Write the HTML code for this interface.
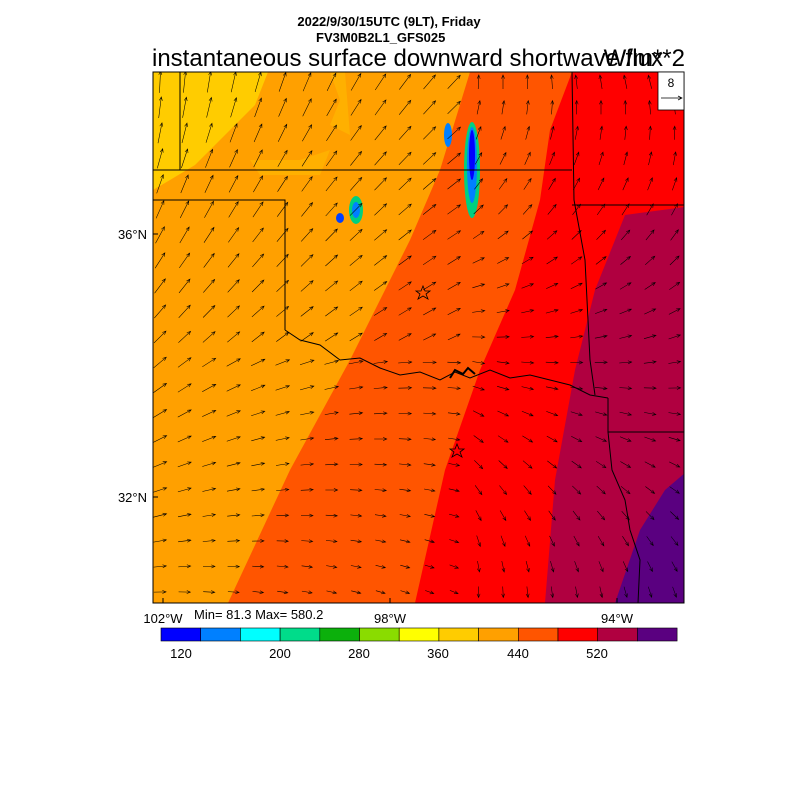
<!DOCTYPE html>
<html><head><meta charset="utf-8"><style>
body{margin:0;background:#fff;width:800px;height:800px;overflow:hidden}
svg{display:block}
text{font-family:"Liberation Sans",sans-serif}
</style></head><body>
<svg id="s" width="800" height="800" viewBox="0 0 800 800">
<text x="389" y="26" font-size="13" font-weight="bold" text-anchor="middle">2022/9/30/15UTC (9LT), Friday</text>
<text x="316" y="42" font-size="13" font-weight="bold">FV3M0B2L1_GFS025</text>
<text x="152" y="66" font-size="24">instantaneous surface downward shortwave flux</text>
<text x="685" y="66" font-size="24" text-anchor="end">W/m**2</text>
<clipPath id="c"><rect x="153" y="72" width="531" height="531"/></clipPath>
<g clip-path="url(#c)">
<rect x="153" y="72" width="531" height="531" fill="#ffa000"/>
<polygon points="153,72 268,72 255,105 225,135 195,165 170,180 153,190" fill="#ffcc00"/>
<polygon points="250,160 300,160 330,150 320,175 260,175" fill="#ffb000"/>
<polygon points="330,72 340,100 330,125 350,135 345,72" fill="#ffb000"/>
<polygon points="470,72 700,72 700,603 228,603 290,470 350,360 410,240 440,170" fill="#ff5500"/>
<polygon points="572,72 700,72 700,603 415,603 445,470 480,370 515,290 540,200 550,130" fill="#ff0000"/>
<polygon points="700,205 625,215 595,290 575,370 555,480 545,603 700,603" fill="#b00040"/>
<polygon points="700,460 665,490 640,530 615,603 700,603" fill="#5a0080"/>
<ellipse cx="356" cy="210" rx="7" ry="14" fill="#00d080"/>
<ellipse cx="356" cy="210" rx="4" ry="8" fill="#0080ff"/>
<ellipse cx="340" cy="218" rx="4" ry="5" fill="#0040ff"/>
<ellipse cx="472" cy="170" rx="8" ry="48" fill="#00d080"/>
<ellipse cx="472" cy="165" rx="5" ry="38" fill="#0080ff"/>
<ellipse cx="472" cy="155" rx="3" ry="25" fill="#0000ff"/>
<ellipse cx="448" cy="135" rx="4" ry="12" fill="#0080ff"/>
<g id="arr" stroke="#000" stroke-width="0.55" fill="none"></g>
<g stroke="#000" stroke-width="1" fill="none">
<path d="M180,72V170M153,170H572M153,200H285V330"/>
<path d="M285,330 L300,340 320,345 340,360 360,358 380,368 400,375 420,372 440,380 455,372 470,378 490,370 510,378 530,375 550,380 570,385 590,395 608,398"/>
<path d="M572,72 L574,200 L585,260 L588,320 L590,360 L595,395"/>
<path d="M572,205H684M608,398V432H684M608,432 L612,470 625,500 630,530 640,560 638,603"/>
<path d="M450,378 l5,-8 8,4 5,-6 7,6" stroke-width="2"/>
</g>
<g fill="none" stroke="#000" stroke-width="0.8">
<polygon points="423,286 425,291 430,291 426,294 428,299 423,296 418,299 420,294 416,291 421,291"/>
<polygon points="457,444 459,449 464,449 460,452 462,457 457,454 452,457 454,452 450,449 455,449"/>
</g>
</g>
<rect x="153" y="72" width="531" height="531" fill="none" stroke="#000" stroke-width="1"/>
<rect x="658" y="72" width="26" height="38" fill="#fff" stroke="#000" stroke-width="0.8"/>
<text x="671" y="87" font-size="12" text-anchor="middle">8</text>
<path d="M661,98H682M678,96L682,98L678,100" stroke="#000" stroke-width="0.7" fill="none"/>
<text x="147" y="239" font-size="13" text-anchor="end">36°N</text>
<text x="147" y="502" font-size="13" text-anchor="end">32°N</text>
<path d="M153,234h5M153,497h5M163,603v-5M390,603v-5M617,603v-5" stroke="#000"/>
<text x="163" y="623" font-size="13" text-anchor="middle">102°W</text>
<text x="390" y="623" font-size="13" text-anchor="middle">98°W</text>
<text x="617" y="623" font-size="13" text-anchor="middle">94°W</text>
<text x="194" y="619" font-size="13">Min= 81.3 Max= 580.2</text>
<g id="cb" stroke="#000" stroke-width="0.6"></g>
<g font-size="13" text-anchor="middle">
<text x="181" y="658">120</text><text x="280" y="658">200</text><text x="359" y="658">280</text><text x="438" y="658">360</text><text x="518" y="658">440</text><text x="597" y="658">520</text>
</g>
</svg>
<script>
var cols=["#0000ff","#0080ff","#00ffff","#00dc8a","#0cb00c","#8adc00","#ffff00","#ffcc00","#ffa000","#ff5500","#ff0000","#b00040","#5a0080"];
var cb=document.getElementById('cb'),h='';
for(var i=0;i<13;i++){h+='<rect x="'+(161+i*39.7)+'" y="628" width="39.7" height="13" fill="'+cols[i]+'"/>';}
cb.innerHTML=h;
var a=document.getElementById('arr');h='';
for(var y=82;y<603;y+=25.5){for(var x=160;x<684;x+=24.5){
 var fx=(x-153)/531,fy=(y-72)/531;
 var ang,len;
 if(fx<0.6){ang=-Math.PI/2*(1-fy)*(1-fx*0.9)-0.1*fx+ (fy>0.5?(fx)*0.8:0);len=22-fy*10-fx*6;}
 else{ang=-Math.PI/2-0.3*(fx-0.6)*3+fy*3.2;len=14-fy*3;}
 if(len<8)len=8;
 var dx=Math.cos(ang)*len,dy=Math.sin(ang)*len;
 var x0=x-dx/2,y0=y-dy/2,x1=x+dx/2,y1=y+dy/2;
 var b=Math.atan2(dy,dx),hl=4;
 h+='<path d="M'+x0.toFixed(1)+','+y0.toFixed(1)+'L'+x1.toFixed(1)+','+y1.toFixed(1)+'M'+(x1-hl*Math.cos(b-0.4)).toFixed(1)+','+(y1-hl*Math.sin(b-0.4)).toFixed(1)+'L'+x1.toFixed(1)+','+y1.toFixed(1)+'L'+(x1-hl*Math.cos(b+0.4)).toFixed(1)+','+(y1-hl*Math.sin(b+0.4)).toFixed(1)+'"/>';
}}
a.innerHTML=h;
</script>
</body></html>
